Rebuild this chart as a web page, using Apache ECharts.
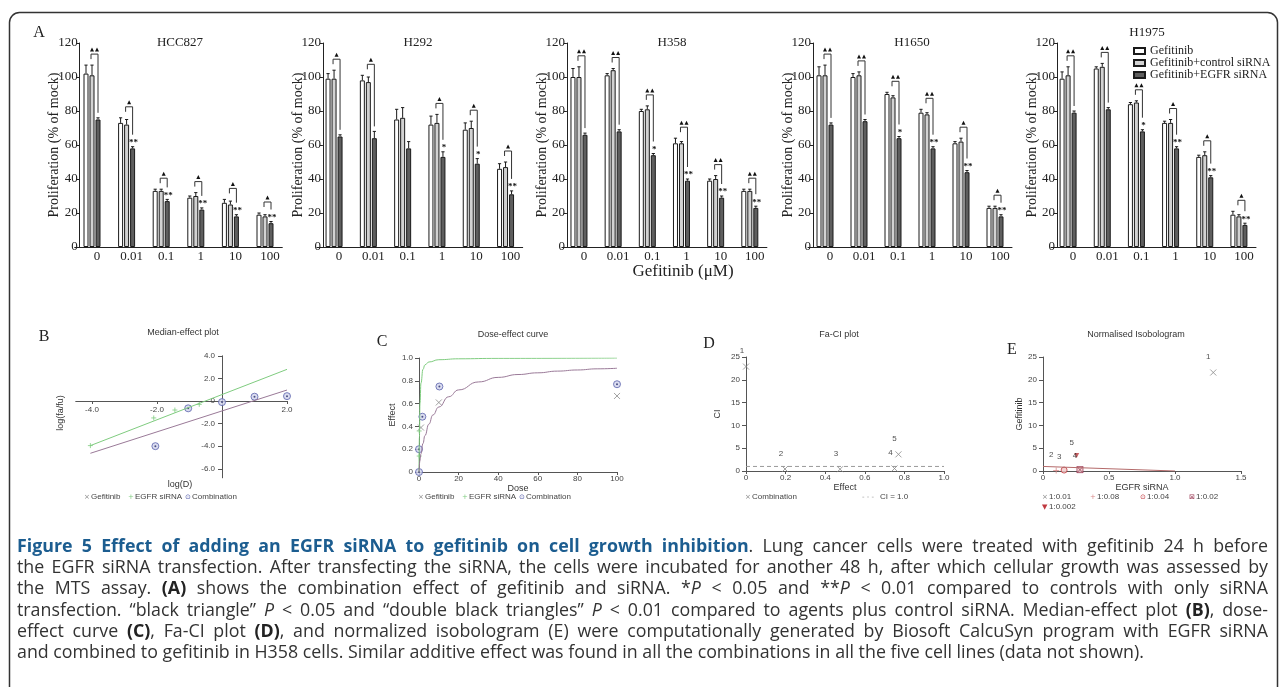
<!DOCTYPE html>
<html><head><meta charset="utf-8">
<script src="https://cdn.jsdelivr.net/npm/echarts@6/dist/echarts.min.js"></script>
<style>html,body{margin:0;padding:0;background:#fff}#c{width:1284px;height:687px}</style>
</head><body><div id="c"></div>
<script>
// ---------------- DATA ----------------
const doses = ['0','0.01','0.1','1','10','100'];
const cellLines = ['HCC827','H292','H358','H1650','H1975'];
const seriesNames = ['Gefitinib','Gefitinib+control siRNA','Gefitinib+EGFR siRNA'];
const gefMean = [
 [102,73,33,29,26,19],
 [99,98,75,72,69,46],
 [100,101,80,61,39,33],
 [101,100,90,79,61,23],
 [99,105,84,73,53,19]];
const gefErr = [
 [5,3,1,1,2,1],
 [3,3,6,5,4,3],
 [5,1,1,3,1,1],
 [5,2,1,2,1,1],
 [4,1,1,1,1,2]];
const ctrlMean = [
 [101,72,33,30,25,18],
 [99,97,76,73,70,47],
 [100,104,81,61,40,33],
 [101,101,88,78,62,23],
 [101,106,85,73,54,18]];
const ctrlErr = [
 [6,3,1,2,2,1],
 [5,3,6,5,4,3],
 [6,1,2,1,2,1],
 [6,2,1,1,2,1],
 [5,2,1,2,2,1]];
const egfrMean = [
 [75,58,27,22,18,14],
 [65,64,58,53,49,31],
 [66,68,54,39,29,23],
 [72,74,64,58,44,18],
 [79,81,68,58,41,13]];
const egfrErr = [
 [1,1,1,1,1,1],
 [1,4,4,3,3,2],
 [1,1,1,1,1,1],
 [1,1,1,1,1,1],
 [1,1,1,1,1,1]];
const triangles = [
 [2,1,1,1,1,1],
 [1,1,0,1,1,1],
 [2,2,2,2,2,2],
 [2,2,2,2,1,1],
 [2,2,2,1,1,1]];
const stars = [
 ['','**','**','**','**','**'],
 ['','','','*','*','**'],
 ['','','*','**','**','**'],
 ['','','*','**','**','**'],
 ['','','*','**','**','**']];

// B: median-effect plot
const bSirnaX = [-4.05,-2.1,-1.45,-0.7];
const bSirnaY = [-3.95,-1.5,-0.8,-0.3];
const bCombX = [-2.05,-1.04,0.0,1.0,2.0];
const bCombY = [-4.0,-0.65,-0.1,0.38,0.43];
const bSirnaLine = [[-4.05,-3.95],[2.0,2.8]];
const bGefLine = [[-4.05,-4.63],[2.0,0.97]];
const bXLabels = [-4,-2,2];
const bYLabels = [-6,-4,-2,0,2,4];

// C: dose-effect curve
const cGefDose = [1,10,100];
const cGefEff = [0.39,0.61,0.667];
const cCombDose = [0,0,1.7,10.3,100];
const cCombEff = [0,0.2,0.485,0.75,0.77];
const cSirnaDose = [0.1,0.1];
const cSirnaEff = [0.36,0.14];
const cSirnaCurve = [[0,0],[0.2,0.3],[0.5,0.6],[1,0.78],[2,0.9],[3,0.94],[5,0.965],[10,0.985],[20,0.993],[40,0.997],[100,1]];
const cGefCurve = [[0,0],[0.5,0.1],[1,0.16],[2,0.25],[3,0.32],[5,0.42],[7,0.5],[10,0.57],[15,0.66],[20,0.72],[30,0.79],[40,0.83],[50,0.855],[60,0.87],[70,0.885],[80,0.895],[90,0.905],[100,0.91]];

// D: Fa-CI plot
const faEffect = [0.0,0.197,0.475,0.75,0.77];
const faCI = [22.9,0.44,0.4,0.55,3.65];
const pointLabels = ['1','2','3','4','5'];
const ciRef = [[0,1],[1,1]];

// E: normalised isobologram
const isoRatios = ['1:0.01','1:0.08','1:0.04','1:0.02','1:0.002'];
const isoX = [1.29,0.10,0.16,0.28,0.255];
const isoY = [21.6,0.1,0.2,0.3,3.4];
const isoLine = [[0,1],[1,0]];

// caption
const captionLines = [
 [['t','Figure 5 Effect of adding an EGFR siRNA to gefitinib on cell growth inhibition'],['n','. Lung cancer cells were treated with gefitinib 24 h before']],
 [['n','the EGFR siRNA transfection. After transfecting the siRNA, the cells were incubated for another 48 h, after which cellular growth was assessed by']],
 [['n','the MTS assay. '],['b','(A)'],['n',' shows the combination effect of gefitinib and siRNA. *'],['i','P'],['n',' < 0.05 and **'],['i','P'],['n',' < 0.01 compared to controls with only siRNA']],
 [['n','transfection. \u201cblack triangle\u201d '],['i','P'],['n',' < 0.05 and \u201cdouble black triangles\u201d '],['i','P'],['n',' < 0.01 compared to agents plus control siRNA. Median-effect plot '],['b','(B)'],['n',', dose-']],
 [['n','effect curve '],['b','(C)'],['n',', Fa-CI plot '],['b','(D)'],['n',', and normalized isobologram (E) were computationally generated by Biosoft CalcuSyn program with EGFR siRNA']],
 [['n','and combined to gefitinib in H358 cells. Similar additive effect was found in all the combinations in all the five cell lines (data not shown).']]
];

// ---------------- LAYOUT / STYLE ----------------
const serif = "'Liberation Serif','Times New Roman',serif";
const sans = "'Liberation Sans',Arial,sans-serif";
const topLayout = [
 {left:74.7,width:207.6,yoff:-5,tx:180,ty:43},
 {left:316.9,width:205.8,yoff:-6,tx:418,ty:43},
 {left:561.9,width:205,yoff:-5,tx:672,ty:43},
 {left:808,width:204,yoff:-5,tx:912,ty:43},
 {left:1051,width:205,yoff:-6,tx:1147,ty:33}];
const barOffsets = [-6,0,6];
const barFills = ['#ffffff','#d2d2d2','#5e5e5e'];

const grids=[], xAxes=[], yAxes=[], series=[], graphics=[];

function errRender(k){
  return function(params, api){
    const i=api.value(0), m=api.value(1), e=api.value(2);
    const a=api.coord([i,m]), b=api.coord([i,m+e]);
    const x=a[0]+barOffsets[k];
    return {type:'group',children:[
      {type:'line',shape:{x1:x,y1:a[1],x2:x,y2:b[1]},style:{stroke:'#1a1a1a',lineWidth:1}},
      {type:'line',shape:{x1:x-1.6,y1:b[1],x2:x+1.6,y2:b[1]},style:{stroke:'#1a1a1a',lineWidth:1}}]};
  };
}
function bracketRender(p){
  return function(params, api){
    const i=api.value(0), t1=api.value(1), t2=api.value(2), t3=api.value(3), nt=api.value(4);
    const st=stars[p][i];
    const c=api.coord([i,0])[0];
    const yHi=api.coord([i,Math.max(t1,t2)])[1]-11;
    const y3=api.coord([i,t3])[1];
    const xl=c-1, xr=c+barOffsets[2];
    const ch=[];
    ch.push({type:'polyline',shape:{points:[[xl,yHi+5],[xl,yHi],[xr,yHi],[xr,y3-(st?12:5)]]},style:{stroke:'#333',lineWidth:1,fill:null}});
    const mid=(xl+xr)/2;
    for(let t=0;t<nt;t++){
      const cx=mid+(t-(nt-1)/2)*5;
      ch.push({type:'polygon',shape:{points:[[cx-2,yHi-2.5],[cx+2,yHi-2.5],[cx,yHi-6.5]]},style:{fill:'#111'}});
    }
    if(st) ch.push({type:'text',x:xr+1,y:y3-4,style:{text:st,fontSize:9,fontWeight:'bold',fontFamily:serif,fill:'#111',align:'center',verticalAlign:'middle'}});
    return {type:'group',children:ch};
  };
}

topLayout.forEach((L,p)=>{
  grids.push({left:L.left,top:43,width:L.width,height:204});
  xAxes.push({type:'category',gridIndex:p,data:doses,
    axisLine:{lineStyle:{color:'#222',width:1}},axisTick:{show:false},
    axisLabel:{fontFamily:serif,fontSize:13,color:'#222',margin:3,padding:[0,0,0,10]}});
  yAxes.push({type:'value',gridIndex:p,min:0,max:120,interval:20,offset:L.yoff,
    axisLine:{show:true,lineStyle:{color:'#222',width:1}},
    axisTick:{show:true,length:3,lineStyle:{color:'#222'}},
    axisLabel:{fontFamily:serif,fontSize:13,color:'#222',margin:2},
    splitLine:{show:false},
    name:'Proliferation (% of mock)',nameLocation:'middle',nameGap:18,nameMoveOverlap:false,
    nameTextStyle:{fontFamily:serif,fontSize:14,color:'#222'}});
  const means=[gefMean[p],ctrlMean[p],egfrMean[p]];
  const errs=[gefErr[p],ctrlErr[p],egfrErr[p]];
  means.forEach((m,k)=>{
    series.push({type:'bar',name:seriesNames[k],xAxisIndex:p,yAxisIndex:p,data:m,
      barWidth:5,barGap:'20%',itemStyle:{color:barFills[k],borderColor:'#1a1a1a',borderWidth:1},
      emphasis:{disabled:true},z:2});
  });
  means.forEach((m,k)=>{
    series.push({type:'custom',xAxisIndex:p,yAxisIndex:p,silent:true,z:3,
      data:m.map((v,i)=>[i,v,errs[k][i]]),renderItem:errRender(k)});
  });
  const br=[];
  for(let i=0;i<doses.length;i++){
    if(triangles[p][i]>0) br.push([i,gefMean[p][i]+gefErr[p][i],ctrlMean[p][i]+ctrlErr[p][i],egfrMean[p][i]+egfrErr[p][i],triangles[p][i]]);
  }
  series.push({type:'custom',xAxisIndex:p,yAxisIndex:p,silent:true,z:4,data:br,renderItem:bracketRender(p)});
  graphics.push({type:'text',x:L.tx,y:L.ty,style:{text:cellLines[p],fontFamily:serif,fontSize:13,fill:'#222',align:'center',verticalAlign:'middle'}});
});
graphics.push({type:'text',x:683,y:272,style:{text:'Gefitinib (\u03bcM)',fontFamily:serif,fontSize:17,fill:'#222',align:'center',verticalAlign:'middle'}});

// bottom axes common styles
const axC='#555';
const smallLbl={fontFamily:sans,fontSize:8,color:'#444'};
const nameTS={fontFamily:sans,fontSize:9,color:'#333'};
const fmt1=v=>v===0?'0':v.toFixed(1);

// B grid (index 5): axes moved onto the zero lines with offsets
grids.push({left:75.75,top:355.8,width:211.25,height:122});
xAxes.push({type:'value',gridIndex:5,min:-4.5,max:2.0,offset:-76.8,
  axisLine:{onZero:false,lineStyle:{color:axC}},
  axisTick:{customValues:[-4,-2,2],length:3,lineStyle:{color:axC}},
  axisLabel:Object.assign({customValues:bXLabels,formatter:fmt1,margin:5},smallLbl),splitLine:{show:false}});
yAxes.push({type:'value',gridIndex:5,min:-6.8,max:4.0,offset:-146.25,
  axisLine:{onZero:false,lineStyle:{color:axC}},
  axisTick:{customValues:bYLabels,length:4,lineStyle:{color:axC}},
  axisLabel:Object.assign({customValues:bYLabels,formatter:fmt1,margin:7},smallLbl),splitLine:{show:false}});
// C grid (6)
grids.push({left:419,top:358,width:198,height:114});
xAxes.push({type:'value',gridIndex:6,min:0,max:100,interval:20,
  axisLine:{lineStyle:{color:axC}},axisTick:{length:3,lineStyle:{color:axC}},
  axisLabel:Object.assign({margin:3},smallLbl),splitLine:{show:false},
  name:'Dose',nameLocation:'middle',nameGap:11,nameTextStyle:nameTS});
yAxes.push({type:'value',gridIndex:6,min:0,max:1,interval:0.2,
  axisLine:{lineStyle:{color:axC}},axisTick:{length:4,lineStyle:{color:axC}},
  axisLabel:Object.assign({formatter:fmt1,margin:6},smallLbl),splitLine:{show:false},
  name:'Effect',nameLocation:'middle',nameGap:22,nameTextStyle:nameTS});
// D grid (7)
grids.push({left:746,top:357,width:198,height:114});
xAxes.push({type:'value',gridIndex:7,min:0,max:1,interval:0.2,
  axisLine:{lineStyle:{color:axC}},axisTick:{length:3,lineStyle:{color:axC}},
  axisLabel:Object.assign({formatter:fmt1,margin:3},smallLbl),splitLine:{show:false},
  name:'Effect',nameLocation:'middle',nameGap:11,nameTextStyle:nameTS});
yAxes.push({type:'value',gridIndex:7,min:0,max:25,interval:5,
  axisLine:{lineStyle:{color:axC}},axisTick:{length:4,lineStyle:{color:axC}},
  axisLabel:Object.assign({margin:6},smallLbl),splitLine:{show:false},
  name:'CI',nameLocation:'middle',nameGap:24,nameTextStyle:nameTS});
// E grid (8)
grids.push({left:1043,top:357,width:198,height:114});
xAxes.push({type:'value',gridIndex:8,min:0,max:1.5,interval:0.5,
  axisLine:{lineStyle:{color:axC}},axisTick:{length:3,lineStyle:{color:axC}},
  axisLabel:Object.assign({formatter:fmt1,margin:3},smallLbl),splitLine:{show:false},
  name:'EGFR siRNA',nameLocation:'middle',nameGap:11,nameTextStyle:nameTS});
yAxes.push({type:'value',gridIndex:8,min:0,max:25,interval:5,
  axisLine:{lineStyle:{color:axC}},axisTick:{length:4,lineStyle:{color:axC}},
  axisLabel:Object.assign({margin:6},smallLbl),splitLine:{show:false},
  name:'Gefitinib',nameLocation:'middle',nameGap:17,nameTextStyle:nameTS});

const xSym='path://M0,0L10,10M10,0L0,10';
const plusSym='path://M5,0L5,10M0,5L10,5';
const boxXSym='path://M0,0L10,0L10,10L0,10ZM0,0L10,10M10,0L0,10';
const green='#7fcc7f', mauve='#9a7a98', blue='#5a62ad', gray='#8a8a8a', red='#c0393f';
const combStyle={color:'#d2d5ec',borderColor:blue,borderWidth:1};
const pairs=(xs,ys)=>xs.map((x,i)=>[x,ys[i]]);

// B series
series.push({type:'line',xAxisIndex:5,yAxisIndex:5,data:bSirnaLine,symbol:'none',lineStyle:{color:green,width:1},silent:true});
series.push({type:'line',xAxisIndex:5,yAxisIndex:5,data:bGefLine,symbol:'none',lineStyle:{color:mauve,width:1},silent:true});
series.push({type:'scatter',xAxisIndex:5,yAxisIndex:5,data:pairs(bSirnaX,bSirnaY),symbol:plusSym,symbolSize:5,itemStyle:{color:'none',borderColor:green,borderWidth:1}});
series.push({type:'scatter',xAxisIndex:5,yAxisIndex:5,data:pairs(bCombX,bCombY),symbol:'circle',symbolSize:7,itemStyle:combStyle});
series.push({type:'scatter',xAxisIndex:5,yAxisIndex:5,data:pairs(bCombX,bCombY),symbol:'circle',symbolSize:2,itemStyle:{color:'#262a66'}});
// C series
series.push({type:'line',xAxisIndex:6,yAxisIndex:6,data:cSirnaCurve,symbol:'none',smooth:true,smoothMonotone:'x',lineStyle:{color:green,width:1},silent:true});
series.push({type:'line',xAxisIndex:6,yAxisIndex:6,data:cGefCurve,symbol:'none',smooth:true,smoothMonotone:'x',lineStyle:{color:mauve,width:1},silent:true});
series.push({type:'scatter',xAxisIndex:6,yAxisIndex:6,data:pairs(cSirnaDose,cSirnaEff),symbol:plusSym,symbolSize:5,itemStyle:{color:'none',borderColor:green,borderWidth:1}});
series.push({type:'scatter',xAxisIndex:6,yAxisIndex:6,data:pairs(cGefDose,cGefEff),symbol:xSym,symbolSize:6,itemStyle:{color:'none',borderColor:gray,borderWidth:1}});
series.push({type:'scatter',xAxisIndex:6,yAxisIndex:6,data:pairs(cCombDose,cCombEff),symbol:'circle',symbolSize:7,itemStyle:combStyle});
series.push({type:'scatter',xAxisIndex:6,yAxisIndex:6,data:pairs(cCombDose,cCombEff),symbol:'circle',symbolSize:2,itemStyle:{color:'#262a66'}});
// D series
series.push({type:'line',xAxisIndex:7,yAxisIndex:7,data:ciRef,symbol:'none',lineStyle:{color:'#999',width:1,type:[4,3]},silent:true});
series.push({type:'scatter',xAxisIndex:7,yAxisIndex:7,data:pairs(faEffect,faCI),symbol:xSym,symbolSize:6,
  itemStyle:{color:'none',borderColor:gray,borderWidth:1},
  label:{show:true,position:'top',offset:[-4,-1],formatter:p=>pointLabels[p.dataIndex],fontFamily:sans,fontSize:8,color:'#222'}});
// E series
series.push({type:'line',xAxisIndex:8,yAxisIndex:8,data:isoLine,symbol:'none',lineStyle:{color:'#b46a6a',width:1},silent:true});
const isoSyms=[xSym,plusSym,'circle',boxXSym,'triangle'];
const isoStyles=[
  {color:'none',borderColor:gray,borderWidth:1},
  {color:'none',borderColor:'#d98a8a',borderWidth:1},
  {color:'#f1c9c9',borderColor:red,borderWidth:1},
  {color:'#f1d2d2',borderColor:'#9a3a55',borderWidth:1},
  {color:red,borderColor:red,borderWidth:0}];
isoX.forEach((x,i)=>{
  series.push({type:'scatter',xAxisIndex:8,yAxisIndex:8,data:[[x,isoY[i]]],symbol:isoSyms[i],
    symbolSize:i===4?5:6,symbolRotate:i===4?180:0,itemStyle:isoStyles[i],
    label:{show:true,position:'top',offset:[-5,-1],formatter:()=>pointLabels[i],fontFamily:sans,fontSize:8,color:'#222'}});
});

// panel texts
const letters=[['A',39,33],['B',44,337],['C',382,342],['D',709,344],['E',1012,350]];
letters.forEach(([t,x,y])=>graphics.push({type:'text',x:x,y:y,style:{text:t,fontFamily:serif,fontSize:16,fill:'#222',align:'center',verticalAlign:'middle'}}));
const subTitles=[['Median-effect plot',183,333],['Dose-effect curve',513,335],['Fa-CI plot',839,335],['Normalised Isobologram',1136,335]];
subTitles.forEach(([t,x,y])=>graphics.push({type:'text',x:x,y:y,style:{text:t,fontFamily:sans,fontSize:9,fill:'#333',align:'center',verticalAlign:'middle'}}));
graphics.push({type:'text',x:61,y:413,rotation:Math.PI/2,style:{text:'log(fa/fu)',fontFamily:sans,fontSize:9,fill:'#333',align:'center',verticalAlign:'middle'}});
graphics.push({type:'text',x:180,y:485,style:{text:'log(D)',fontFamily:sans,fontSize:9,fill:'#333',align:'center',verticalAlign:'middle'}});

// small legends
const smallLegends=[
 ['\u00d7',gray,'Gefitinib',84,497],['+',green,'EGFR siRNA',128,497],['\u2299',blue,'Combination',185,497],
 ['\u00d7',gray,'Gefitinib',418,497],['+',green,'EGFR siRNA',462,497],['\u2299',blue,'Combination',519,497],
 ['\u00d7',gray,'Combination',745,497],['- - -','#999','CI = 1.0',862,497],
 ['\u00d7',gray,isoRatios[0],1042,497],['+','#d98a8a',isoRatios[1],1090,497],['\u2299',red,isoRatios[2],1140,497],['\u22a0','#9a3a55',isoRatios[3],1189,497],
 ['\u25bc',red,isoRatios[4],1042,507]];
smallLegends.forEach(([m,c,t,x,y])=>{
  graphics.push({type:'text',x:x,y:y,style:{text:m,fontFamily:"'DejaVu Sans'",fontSize:7,fill:c,align:'left',verticalAlign:'middle'}});
  graphics.push({type:'text',x:x+(m.length>1?18:7),y:y,style:{text:t,fontFamily:sans,fontSize:8,fill:'#444',align:'left',verticalAlign:'middle'}});
});

// frame
graphics.push({type:'rect',shape:{x:9.5,y:12.5,width:1268,height:700,r:10},style:{fill:'none',stroke:'#333',lineWidth:1.5},z:-1});

// caption (justified word placement)
(function(){
  const ctx=document.createElement('canvas').getContext('2d');
  const fam='Open Sans';
  const fontOf=(s,size)=>(s==='i'?'italic ':'')+((s==='b'||s==='t')?'bold ':'')+size+"px '"+fam+"'";
  const colorOf=s=>s==='t'?'#1c5d90':(s==='b'?'#222':'#333');
  const lines=captionLines.map(runs=>{
    const words=[];let cur=[];
    runs.forEach(([s,txt])=>{
      let buf='';
      for(const ch of txt){
        if(ch===' '){ if(buf){cur.push([s,buf]);buf='';} if(cur.length){words.push(cur);cur=[];} }
        else buf+=ch;
      }
      if(buf) cur.push([s,buf]);
    });
    if(cur.length) words.push(cur);
    return words;
  });
  const mw=(s,t,size)=>{ctx.font=fontOf(s,size);return ctx.measureText(t).width;};
  const natural=(k,size)=>{
    const ws=lines[k].map(w=>w.reduce((a,[s,t])=>a+mw(s,t,size),0));
    return ws.reduce((a,b)=>a+b,0)+mw('n',' ',size)*(ws.length-1);
  };
  const L=17,R=1268,last=lines.length-1;
  let size=16*1128/natural(last,16);
  let maxNat=0; for(let k=0;k<last;k++) maxNat=Math.max(maxNat,natural(k,size));
  if(maxNat>(R-L)*0.99) size*= (R-L)*0.99/maxNat;
  const y0=547, step=21.2;
  lines.forEach((ws,k)=>{
    const widths=ws.map(w=>w.reduce((a,[s,t])=>a+mw(s,t,size),0));
    const sum=widths.reduce((a,b)=>a+b,0);
    const sp=k===last?mw('n',' ',size):(R-L-sum)/(ws.length-1);
    let x=L; const y=y0+k*step;
    ws.forEach((w,j)=>{
      let xx=x;
      w.forEach(([s,t])=>{
        graphics.push({type:'text',x:xx,y:y,silent:true,style:{text:t,fontFamily:fam,fontSize:size,
          fontWeight:(s==='b'||s==='t')?'bold':'normal',fontStyle:s==='i'?'italic':'normal',
          fill:colorOf(s),align:'left',verticalAlign:'middle'}});
        xx+=mw(s,t,size);
      });
      x+=widths[j]+sp;
    });
  });
})();

const chart=echarts.init(document.getElementById('c'));
chart.setOption({
  animation:false,
  backgroundColor:'#fff',
  legend:{data:seriesNames,left:1133,top:45,orient:'vertical',itemWidth:11,itemHeight:6,itemGap:0,padding:0,
    icon:'rect',selectedMode:false,textStyle:{fontFamily:serif,fontSize:12,color:'#222',lineHeight:11.5}},
  grid:grids,xAxis:xAxes,yAxis:yAxes,series:series,graphic:graphics
});
</script></body></html>
